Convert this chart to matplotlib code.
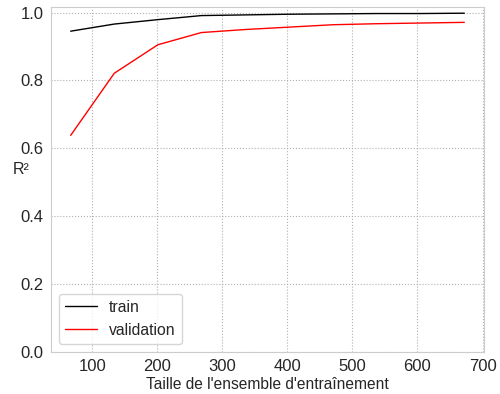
import matplotlib
matplotlib.use("Agg")
import matplotlib.pyplot as plt
import seaborn as sns

# tailles d'entrainement et scores R2
train_sizes = [67, 134, 201, 268, 336, 403, 470, 537, 604, 672]
train_scores = [0.945, 0.966, 0.979, 0.991, 0.993, 0.995, 0.996, 0.997, 0.997, 0.998]
val_scores = [0.638, 0.821, 0.905, 0.941, 0.950, 0.957, 0.964, 0.967, 0.969, 0.971]

sns.set_style("whitegrid", {"grid.linestyle": ":", "grid.color": "#b0b0b0"})
plt.rcParams['font.family'] = ['Liberation Sans', 'DejaVu Sans']

fig, ax = plt.subplots(figsize=(5.0, 3.94), dpi=100)
ax.plot(train_sizes, train_scores, color="black", lw=1, label="train")
ax.plot(train_sizes, val_scores, color="red", lw=1, label="validation")
ax.set_ylim(bottom=0)
ax.set_xlabel("Taille de l'ensemble d'entraînement", fontsize=11.2, labelpad=2)
ax.set_ylabel("R²", fontsize=11.5, rotation=0, va="center")
ax.yaxis.set_label_coords(-0.07, 0.53)
ax.tick_params(labelsize=12, pad=2)
ax.legend(loc="lower left", fontsize=11.3, frameon=True)

fig.subplots_adjust(left=0.102, right=0.968, top=0.982, bottom=0.107)
plt.savefig("out.png")
